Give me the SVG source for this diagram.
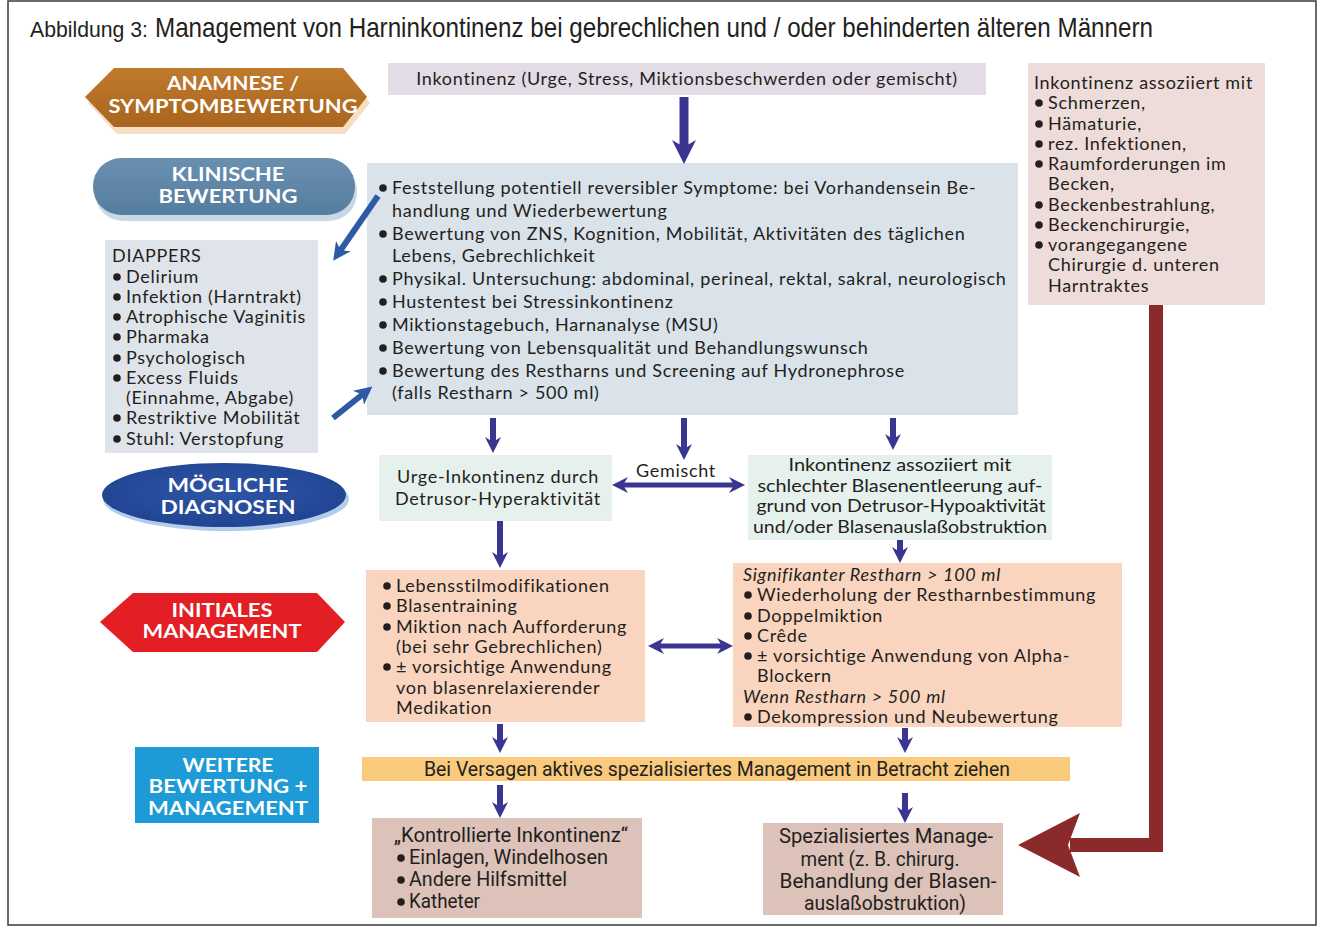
<svg xmlns="http://www.w3.org/2000/svg" width="1323" height="932" viewBox="0 0 1323 932">
  <style>
    .t { font-family: Lato, "Open Sans", sans-serif; font-size: 18px; letter-spacing: 0.7px; fill: #231f20; }
    .ts { font-family: Lato, "Open Sans", sans-serif; font-size: 17px; fill: #231f20; }
    .it { font-style: italic; }
    .cn { font-family: Roboto, "Liberation Sans", sans-serif; font-size: 20px; fill: #231f20; }
    .lab { font-family: Lato, "Open Sans", sans-serif; font-weight: bold; font-size: 19px; fill: #ffffff; text-anchor: middle; }
    .mid { text-anchor: middle; }
    .blu { stroke: #3a3590; fill: none; }
    .dia { stroke: #2d5aa5; fill: none; stroke-width: 6; }
    .bul { fill: #231f20; }
  </style>
  <defs>
    <marker id="ah" viewBox="0 0 16 16" refX="6" refY="8" markerWidth="16" markerHeight="16" markerUnits="userSpaceOnUse" orient="auto-start-reverse">
      <path d="M0,0 L16,8 L0,16 L5,8 Z" fill="#3a3590"/>
    </marker>
    <marker id="ahL" viewBox="0 0 24 24" refX="8" refY="12" markerWidth="24" markerHeight="24" markerUnits="userSpaceOnUse" orient="auto">
      <path d="M0,0 L24,12 L0,24 L7,12 Z" fill="#3a3590"/>
    </marker>
    <marker id="ahD" viewBox="0 0 18 18" refX="6" refY="9" markerWidth="18" markerHeight="18" markerUnits="userSpaceOnUse" orient="auto">
      <path d="M0,0 L18,9 L0,18 L5,9 Z" fill="#2d5aa5"/>
    </marker>
    <linearGradient id="gOr" x1="0" y1="0" x2="0" y2="1">
      <stop offset="0" stop-color="#c07a2c"/>
      <stop offset="1" stop-color="#a9651f"/>
    </linearGradient>
    <linearGradient id="gBl" x1="0" y1="0" x2="0" y2="1">
      <stop offset="0" stop-color="#6a90b0"/>
      <stop offset="1" stop-color="#557d9f"/>
    </linearGradient>
    <radialGradient id="gDk" cx="0.5" cy="0.45" r="0.6">
      <stop offset="0" stop-color="#2e56a6"/>
      <stop offset="1" stop-color="#1f4391"/>
    </radialGradient>
  </defs>

  <!-- frame and heading -->
  <rect x="8" y="1" width="1308" height="924" fill="#ffffff" stroke="#3a3a3a" stroke-width="1.5"/>
  <text x="30" y="37" font-family="'Liberation Sans', Arial, sans-serif" font-size="22" fill="#231f20" textLength="118" lengthAdjust="spacingAndGlyphs">Abbildung 3:</text>
  <text x="155" y="37" font-family="'Liberation Sans', Arial, sans-serif" font-size="28" fill="#231f20" textLength="998" lengthAdjust="spacingAndGlyphs">Management von Harninkontinenz bei gebrechlichen und / oder behinderten älteren Männern</text>

  <!-- stage labels -->
  <g id="label-anamnese">
    <polygon points="88,103 117,73 345,73 370,103 345,134 117,134" fill="#f0c89a" opacity="0.6"/>
    <polygon points="85,97 114,68 343,68 367,97 343,127 114,127" fill="url(#gOr)"/>
    <text class="lab" x="233" y="90" textLength="132" lengthAdjust="spacingAndGlyphs">ANAMNESE /</text>
    <text class="lab" x="233" y="113" textLength="249" lengthAdjust="spacingAndGlyphs">SYMPTOMBEWERTUNG</text>
  </g>
  <g id="label-klinisch">
    <rect x="95" y="164" width="262" height="57" rx="28" fill="#b9cfe0" opacity="0.8"/>
    <rect x="93" y="158" width="262" height="57" rx="28" fill="url(#gBl)"/>
    <text class="lab" x="228" y="181" textLength="113" lengthAdjust="spacingAndGlyphs">KLINISCHE</text>
    <text class="lab" x="228" y="203" textLength="139" lengthAdjust="spacingAndGlyphs">BEWERTUNG</text>
  </g>
  <g id="label-diagnosen">
    <ellipse cx="226" cy="499" rx="123" ry="32" fill="#9fc1e6" opacity="0.8"/>
    <ellipse cx="224" cy="495" rx="122" ry="32" fill="url(#gDk)"/>
    <text class="lab" x="228" y="492" textLength="121" lengthAdjust="spacingAndGlyphs">MÖGLICHE</text>
    <text class="lab" x="228" y="514" textLength="135" lengthAdjust="spacingAndGlyphs">DIAGNOSEN</text>
  </g>
  <g id="label-initial">
    <polygon points="100,622 133,593 317,593 345,622 317,652 133,652" fill="#e31e24"/>
    <text class="lab" x="222" y="617" textLength="101" lengthAdjust="spacingAndGlyphs">INITIALES</text>
    <text class="lab" x="222" y="638" textLength="159" lengthAdjust="spacingAndGlyphs">MANAGEMENT</text>
  </g>
  <g id="label-weitere">
    <rect x="135" y="747" width="184" height="76" fill="#1e9ad6"/>
    <text class="lab" x="228" y="772" textLength="91" lengthAdjust="spacingAndGlyphs">WEITERE</text>
    <text class="lab" x="228" y="793" textLength="159" lengthAdjust="spacingAndGlyphs">BEWERTUNG +</text>
    <text class="lab" x="228" y="815" textLength="160" lengthAdjust="spacingAndGlyphs">MANAGEMENT</text>
  </g>

  <!-- content nodes -->
  <g id="node-start">
    <rect x="388" y="63" width="598" height="32" fill="#e3dbe6"/>
    <text class="t mid" x="687" y="85">Inkontinenz (Urge, Stress, Miktionsbeschwerden oder gemischt)</text>
  </g>

  <g id="node-bewertung">
    <rect x="367" y="163" width="651" height="252" fill="#dae2ea"/>
    <circle class="bul" cx="383" cy="188" r="3.8"/>
    <circle class="bul" cx="383" cy="234" r="3.8"/>
    <circle class="bul" cx="383" cy="279" r="3.8"/>
    <circle class="bul" cx="383" cy="302" r="3.8"/>
    <circle class="bul" cx="383" cy="325" r="3.8"/>
    <circle class="bul" cx="383" cy="348" r="3.8"/>
    <circle class="bul" cx="383" cy="371" r="3.8"/>
    <text class="t" x="392" y="194">Feststellung potentiell reversibler Symptome: bei Vorhandensein Be-</text>
    <text class="t" x="392" y="217">handlung und Wiederbewertung</text>
    <text class="t" x="392" y="240">Bewertung von ZNS, Kognition, Mobilität, Aktivitäten des täglichen</text>
    <text class="t" x="392" y="262">Lebens, Gebrechlichkeit</text>
    <text class="t" x="392" y="285">Physikal. Untersuchung: abdominal, perineal, rektal, sakral, neurologisch</text>
    <text class="t" x="392" y="308">Hustentest bei Stressinkontinenz</text>
    <text class="t" x="392" y="331">Miktionstagebuch, Harnanalyse (MSU)</text>
    <text class="t" x="392" y="354">Bewertung von Lebensqualität und Behandlungswunsch</text>
    <text class="t" x="392" y="377">Bewertung des Restharns und Screening auf Hydronephrose</text>
    <text class="t" x="392" y="399">(falls Restharn &gt; 500 ml)</text>
  </g>

  <g id="node-diappers">
    <rect x="105" y="240" width="213" height="213" fill="#dfe4ea"/>
    <text class="t" x="112" y="262">DIAPPERS</text>
    <circle class="bul" cx="117" cy="277" r="3.8"/>
    <circle class="bul" cx="117" cy="297" r="3.8"/>
    <circle class="bul" cx="117" cy="317" r="3.8"/>
    <circle class="bul" cx="117" cy="337" r="3.8"/>
    <circle class="bul" cx="117" cy="358" r="3.8"/>
    <circle class="bul" cx="117" cy="378" r="3.8"/>
    <circle class="bul" cx="117" cy="418" r="3.8"/>
    <circle class="bul" cx="117" cy="439" r="3.8"/>
    <text class="t" x="126" y="283">Delirium</text>
    <text class="t" x="126" y="303">Infektion (Harntrakt)</text>
    <text class="t" x="126" y="323">Atrophische Vaginitis</text>
    <text class="t" x="126" y="343">Pharmaka</text>
    <text class="t" x="126" y="364">Psychologisch</text>
    <text class="t" x="126" y="384">Excess Fluids</text>
    <text class="t" x="126" y="404">(Einnahme, Abgabe)</text>
    <text class="t" x="126" y="424">Restriktive Mobilität</text>
    <text class="t" x="126" y="445">Stuhl: Verstopfung</text>
  </g>

  <g id="node-warnzeichen">
    <rect x="1028" y="63" width="237" height="242" fill="#eddcd9"/>
    <text class="t" x="1034" y="89">Inkontinenz assoziiert mit</text>
    <circle class="bul" cx="1039" cy="103" r="3.8"/>
    <circle class="bul" cx="1039" cy="124" r="3.8"/>
    <circle class="bul" cx="1039" cy="144" r="3.8"/>
    <circle class="bul" cx="1039" cy="164" r="3.8"/>
    <circle class="bul" cx="1039" cy="205" r="3.8"/>
    <circle class="bul" cx="1039" cy="225" r="3.8"/>
    <circle class="bul" cx="1039" cy="245" r="3.8"/>
    <text class="t" x="1048" y="109">Schmerzen,</text>
    <text class="t" x="1048" y="130">Hämaturie,</text>
    <text class="t" x="1048" y="150">rez. Infektionen,</text>
    <text class="t" x="1048" y="170">Raumforderungen im</text>
    <text class="t" x="1048" y="190">Becken,</text>
    <text class="t" x="1048" y="211">Beckenbestrahlung,</text>
    <text class="t" x="1048" y="231">Beckenchirurgie,</text>
    <text class="t" x="1048" y="251">vorangegangene</text>
    <text class="t" x="1048" y="271">Chirurgie d. unteren</text>
    <text class="t" x="1048" y="292">Harntraktes</text>
  </g>

  <g id="node-urge">
    <rect x="379" y="455" width="233" height="66" fill="#e6f1ee"/>
    <text class="t mid" x="498" y="483">Urge-Inkontinenz durch</text>
    <text class="t mid" x="498" y="505">Detrusor-Hyperaktivität</text>
  </g>

  <g id="node-entleerung">
    <rect x="748" y="455" width="304" height="85" fill="#e6f1ee"/>
    <text class="ts mid" x="900" y="471" textLength="223" lengthAdjust="spacingAndGlyphs">Inkontinenz assoziiert mit</text>
    <text class="ts mid" x="900" y="492" textLength="285" lengthAdjust="spacingAndGlyphs">schlechter Blasenentleerung auf-</text>
    <text class="ts mid" x="901" y="512" textLength="289" lengthAdjust="spacingAndGlyphs">grund von Detrusor-Hypoaktivität</text>
    <text class="ts mid" x="900" y="533" textLength="294" lengthAdjust="spacingAndGlyphs">und/oder Blasenauslaßobstruktion</text>
  </g>

  <g id="node-initial-urge">
    <rect x="366" y="570" width="279" height="152" fill="#f9d4bf"/>
    <circle class="bul" cx="387" cy="586" r="3.8"/>
    <circle class="bul" cx="387" cy="606" r="3.8"/>
    <circle class="bul" cx="387" cy="627" r="3.8"/>
    <circle class="bul" cx="387" cy="667" r="3.8"/>
    <text class="t" x="396" y="592">Lebensstilmodifikationen</text>
    <text class="t" x="396" y="612">Blasentraining</text>
    <text class="t" x="396" y="633">Miktion nach Aufforderung</text>
    <text class="t" x="396" y="653">(bei sehr Gebrechlichen)</text>
    <text class="t" x="396" y="673">± vorsichtige Anwendung</text>
    <text class="t" x="396" y="694">von blasenrelaxierender</text>
    <text class="t" x="396" y="714">Medikation</text>
  </g>

  <g id="node-initial-restharn">
    <rect x="733" y="563" width="389" height="164" fill="#f9d4bf"/>
    <text class="t it" x="743" y="581">Signifikanter Restharn &gt; 100 ml</text>
    <circle class="bul" cx="748" cy="595" r="3.8"/>
    <circle class="bul" cx="748" cy="616" r="3.8"/>
    <circle class="bul" cx="748" cy="636" r="3.8"/>
    <circle class="bul" cx="748" cy="656" r="3.8"/>
    <circle class="bul" cx="748" cy="717" r="3.8"/>
    <text class="t" x="757" y="601">Wiederholung der Restharnbestimmung</text>
    <text class="t" x="757" y="622">Doppelmiktion</text>
    <text class="t" x="757" y="642">Crêde</text>
    <text class="t" x="757" y="662">± vorsichtige Anwendung von Alpha-</text>
    <text class="t" x="757" y="682">Blockern</text>
    <text class="t it" x="743" y="703">Wenn Restharn &gt; 500 ml</text>
    <text class="t" x="757" y="723">Dekompression und Neubewertung</text>
  </g>

  <g id="node-versagen">
    <rect x="362" y="757" width="708" height="24" fill="#f9c97c"/>
    <text class="cn mid" x="717" y="776" textLength="586" lengthAdjust="spacingAndGlyphs">Bei Versagen aktives spezialisiertes Management in Betracht ziehen</text>
  </g>

  <g id="node-kontrolliert">
    <rect x="372" y="818" width="270" height="100" fill="#dcc2b8"/>
    <text class="cn" x="394" y="842" textLength="234" lengthAdjust="spacingAndGlyphs">„Kontrollierte Inkontinenz“</text>
    <circle class="bul" cx="401" cy="858" r="3.8"/>
    <circle class="bul" cx="401" cy="880" r="3.8"/>
    <circle class="bul" cx="401" cy="902" r="3.8"/>
    <text class="cn" x="409" y="864" textLength="199" lengthAdjust="spacingAndGlyphs">Einlagen, Windelhosen</text>
    <text class="cn" x="409" y="886" textLength="158" lengthAdjust="spacingAndGlyphs">Andere Hilfsmittel</text>
    <text class="cn" x="409" y="908" textLength="71" lengthAdjust="spacingAndGlyphs">Katheter</text>
  </g>

  <g id="node-spezialisiert">
    <rect x="763" y="823" width="240" height="92" fill="#dcc2b8"/>
    <text class="cn mid" x="886" y="843" textLength="214" lengthAdjust="spacingAndGlyphs">Spezialisiertes Manage-</text>
    <text class="cn mid" x="880" y="866" textLength="159" lengthAdjust="spacingAndGlyphs">ment (z. B. chirurg.</text>
    <text class="cn mid" x="888" y="888" textLength="217" lengthAdjust="spacingAndGlyphs">Behandlung der Blasen-</text>
    <text class="cn mid" x="885" y="910" textLength="162" lengthAdjust="spacingAndGlyphs">auslaßobstruktion)</text>
  </g>

  <!-- connectors -->
  <g id="connectors">
    <line class="blu" x1="684" y1="97" x2="684" y2="148" stroke-width="9" marker-end="url(#ahL)"/>
    <line class="dia" x1="378" y1="196" x2="340" y2="251" marker-end="url(#ahD)"/>
    <line class="dia" x1="333" y1="418" x2="363" y2="394" marker-end="url(#ahD)"/>

    <line class="blu" x1="493" y1="418" x2="493" y2="443" stroke-width="6" marker-end="url(#ah)"/>
    <line class="blu" x1="684" y1="418" x2="684" y2="450" stroke-width="6" marker-end="url(#ah)"/>
    <line class="blu" x1="893" y1="418" x2="893" y2="440" stroke-width="6" marker-end="url(#ah)"/>

    <line class="blu" x1="622" y1="485" x2="735" y2="485" stroke-width="5" marker-start="url(#ah)" marker-end="url(#ah)"/>
    <text class="t mid" x="676" y="477">Gemischt</text>

    <line class="blu" x1="500" y1="521" x2="500" y2="558" stroke-width="6" marker-end="url(#ah)"/>
    <line class="blu" x1="900" y1="540" x2="900" y2="553" stroke-width="6" marker-end="url(#ah)"/>

    <line class="blu" x1="658" y1="646" x2="723" y2="646" stroke-width="5" marker-start="url(#ah)" marker-end="url(#ah)"/>

    <line class="blu" x1="500" y1="724" x2="500" y2="743" stroke-width="6" marker-end="url(#ah)"/>
    <line class="blu" x1="905" y1="728" x2="905" y2="743" stroke-width="6" marker-end="url(#ah)"/>
    <line class="blu" x1="500" y1="785" x2="500" y2="808" stroke-width="6" marker-end="url(#ah)"/>
    <line class="blu" x1="905" y1="793" x2="905" y2="813" stroke-width="6" marker-end="url(#ah)"/>

    <!-- warning path to specialised management -->
    <polyline points="1156,305 1156,845 1070,845" fill="none" stroke="#8b2a2a" stroke-width="14" stroke-linejoin="miter"/>
    <polygon points="1018,845 1080,813 1068,845 1080,877" fill="#8b2a2a"/>
  </g>
</svg>
